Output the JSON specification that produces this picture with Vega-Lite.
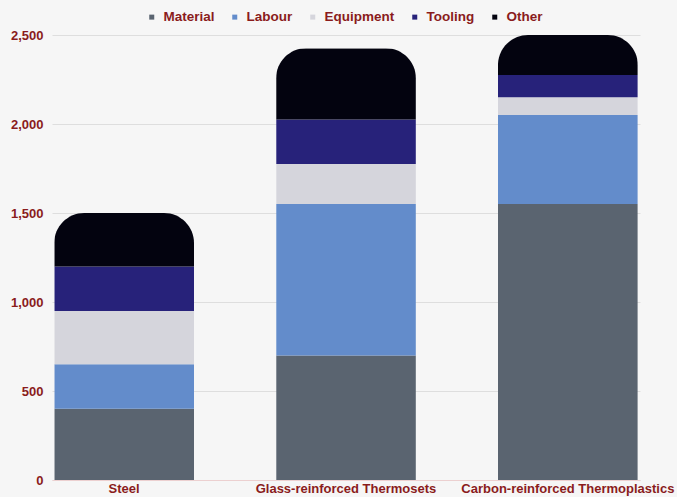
{
  "$schema": "https://vega.github.io/schema/vega-lite/v6.json",
  "width": 588,
  "height": 445,
  "autosize": {"type": "none"},
  "padding": {"left": 52, "top": 35, "right": 37, "bottom": 17},
  "background": "#f6f6f6",
  "data": {
    "values": [
      {"material": "Steel", "component": "Material", "value": 400},
      {"material": "Steel", "component": "Labour", "value": 250},
      {"material": "Steel", "component": "Equipment", "value": 300},
      {"material": "Steel", "component": "Tooling", "value": 250},
      {"material": "Steel", "component": "Other", "value": 300},
      {"material": "Glass-reinforced Thermosets", "component": "Material", "value": 700},
      {"material": "Glass-reinforced Thermosets", "component": "Labour", "value": 850},
      {"material": "Glass-reinforced Thermosets", "component": "Equipment", "value": 225},
      {"material": "Glass-reinforced Thermosets", "component": "Tooling", "value": 250},
      {"material": "Glass-reinforced Thermosets", "component": "Other", "value": 400},
      {"material": "Carbon-reinforced Thermoplastics", "component": "Material", "value": 1550},
      {"material": "Carbon-reinforced Thermoplastics", "component": "Labour", "value": 500},
      {"material": "Carbon-reinforced Thermoplastics", "component": "Equipment", "value": 100},
      {"material": "Carbon-reinforced Thermoplastics", "component": "Tooling", "value": 125},
      {"material": "Carbon-reinforced Thermoplastics", "component": "Other", "value": 225}
    ]
  },
  "transform": [
    {"calculate": "indexof(['Material','Labour','Equipment','Tooling','Other'], datum.component)", "as": "stackOrder"}
  ],
  "mark": {"type": "bar", "cornerRadiusTopLeft": 30, "cornerRadiusTopRight": 30},
  "encoding": {
    "x": {
      "field": "material",
      "type": "nominal",
      "sort": ["Steel", "Glass-reinforced Thermosets", "Carbon-reinforced Thermoplastics"],
      "scale": {"paddingInner": 0.37, "paddingOuter": 0.01},
      "axis": {
        "title": null,
        "labelAngle": 0,
        "labelBaseline": "top",
        "labelFont": "Liberation Sans",
        "labelFontWeight": "bold",
        "labelFontSize": 13,
        "labelColor": "#8a1c1c",
        "labelPadding": 2,
        "labelLimit": 400,
        "ticks": false,
        "domainColor": "#ecd0d0",
        "grid": false
      }
    },
    "y": {
      "field": "value",
      "type": "quantitative",
      "aggregate": "sum",
      "stack": "zero",
      "scale": {"domain": [0, 2500], "nice": false},
      "axis": {
        "title": null,
        "values": [0, 500, 1000, 1500, 2000, 2500],
        "format": ",.0f",
        "labelFont": "Liberation Sans",
        "labelFontWeight": "bold",
        "labelFontSize": 13,
        "labelColor": "#8a1c1c",
        "labelPadding": 9,
        "ticks": false,
        "domain": false,
        "gridColor": "#dedede",
        "gridWidth": 1
      }
    },
    "order": {"field": "stackOrder", "type": "quantitative", "sort": "ascending"},
    "color": {
      "field": "component",
      "type": "nominal",
      "sort": ["Material", "Labour", "Equipment", "Tooling", "Other"],
      "scale": {
        "domain": ["Material", "Labour", "Equipment", "Tooling", "Other"],
        "range": ["#5a6470", "#638ccb", "#d5d5dc", "#27227a", "#03030f"]
      },
      "legend": {
        "title": null,
        "orient": "none",
        "direction": "horizontal",
        "legendX": 93,
        "legendY": -25,
        "symbolType": "square",
        "symbolSize": 25,
        "symbolStrokeWidth": 0,
        "labelFont": "Liberation Sans",
        "labelFontWeight": "bold",
        "labelFontSize": 13.5,
        "labelColor": "#8a1c1c",
        "labelOffset": 5,
        "columnPadding": 13
      }
    }
  },
  "config": {"view": {"stroke": null}}
}
